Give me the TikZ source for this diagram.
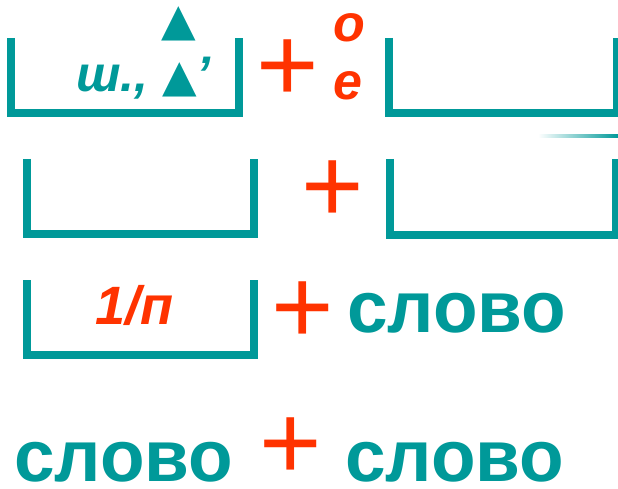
\documentclass[tikz,border=0pt]{standalone}
\usepackage{fontspec}
\setmainfont{Liberation Sans}
\newfontfamily\trifont{DejaVu Sans}
\usepackage{tikz}
\definecolor{bowl}{RGB}{0,153,153}
\definecolor{plusred}{RGB}{255,51,0}

\begin{document}
\begin{tikzpicture}[x=1pt,y=-1pt,
  ub/.style={draw=bowl,line width=8pt},
  pl/.style={text=plusred,font=\fontsize{107}{107}\selectfont,inner sep=0pt,anchor=north},
  w/.style={text=bowl,font=\fontsize{73}{73}\selectfont\bfseries,inner sep=0pt,anchor=base west},
  m/.style={font=\fontsize{52}{52}\selectfont\bfseries\itshape,inner sep=0pt,anchor=base west}]
\useasboundingbox (0,0) rectangle (618,489);
% row 1
\draw[ub] (11,38) |- (238.5,113.5) -- (238.5,38);
\node[text=bowl,font=\fontsize{45}{45}\selectfont\trifont,inner sep=0pt,anchor=north] (tri) at (178.5,6) {▲};
\node[m,text=bowl,font=\fontsize{50}{50}\selectfont\bfseries\itshape] (sh) at (76,92) {ш., {\fontsize{45}{45}\selectfont\trifont ▲}’};
\node[pl] (p1) at (287.5,40) {+};
\node[m,text=plusred] (o) at (333,42) {о};
\node[m,text=plusred] (e) at (333,100) {е};
\draw[ub] (389,38) |- (616.5,113.5) -- (616.5,38);
\shade[left color=white,right color=bowl] (538,135) rectangle (618,137.5);
% row 2
\draw[ub] (27,159) |- (254,234) -- (254,159);
\node[pl] (p2) at (333,161) {+};
\draw[ub] (390,159) |- (616,234.5) -- (616,159);
% row 3
\draw[ub] (27,280) |- (254,355) -- (254,280);
\node[m,text=plusred,font=\fontsize{54}{54}\selectfont\bfseries\itshape] (n) at (95,324) {1/п};
\node[pl] (p3) at (303,282) {+};
\node[w] (w1) at (347,332) {слово};
% row 4
\node[w] (w2) at (14,481) {слово};
\node[pl] (p4) at (290.5,418) {+};
\node[w] (w3) at (345,481) {слово};
\end{tikzpicture}
\end{document}
